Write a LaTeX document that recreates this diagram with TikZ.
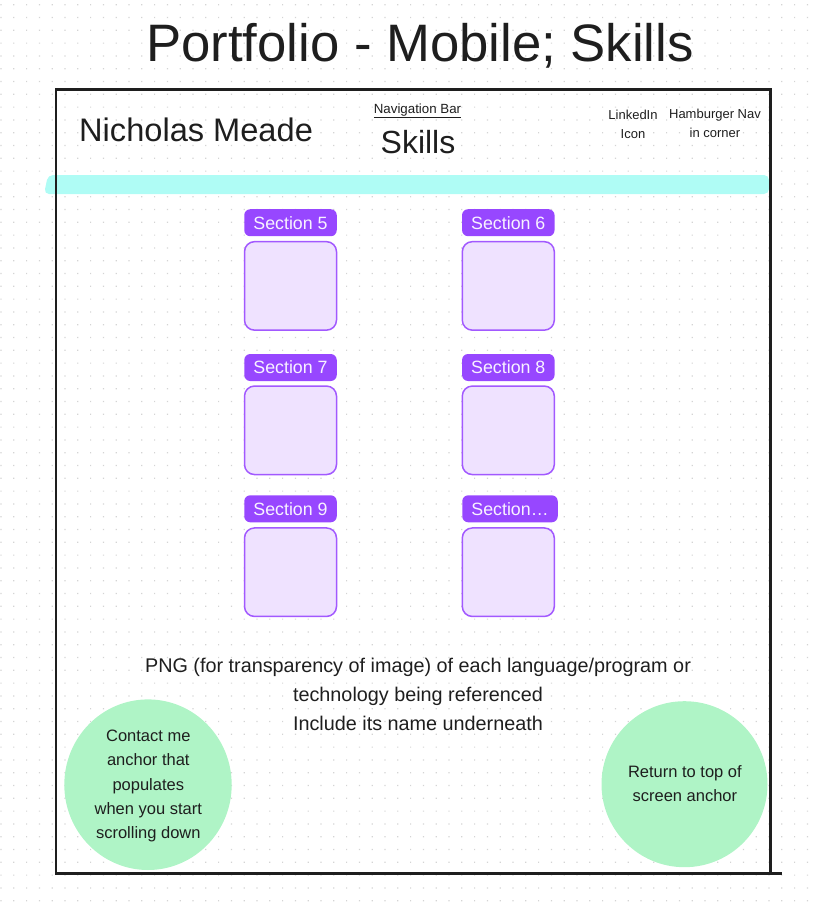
\documentclass[tikz,border=0pt]{standalone}
\usepackage{fontspec}
\setmainfont{Liberation Sans}
\usetikzlibrary{shapes.geometric}

\definecolor{ink}{HTML}{1E1E1E}
\definecolor{gridc}{HTML}{D4D4D4}
\definecolor{barc}{HTML}{AFFCF5}
\definecolor{tagc}{HTML}{9747FF}
\definecolor{tagtext}{HTML}{F8F2FF}
\definecolor{tilefill}{HTML}{EFE2FF}
\definecolor{tileline}{HTML}{A259FF}
\definecolor{bubble}{HTML}{AFF4C6}

% font size helper and a centred, top-aligned stack of lines
\newcommand\fsz[1]{\fontsize{#1}{#1}\selectfont}
\newcommand\linestack[4]{\parbox[t]{#1}{\centering\fontsize{#2}{#3}\selectfont #4}}

\begin{document}
\begin{tikzpicture}[x=1pt,y=-1pt,
  tag/.style={fill=tagc, rounded corners=6pt, minimum width=92.5pt,
    minimum height=27pt, inner sep=0pt, text=tagtext, font=\fsz{17.8}},
  tile/.style={fill=tilefill, draw=tileline, line width=1.5pt,
    rounded corners=10pt, minimum width=92pt, minimum height=88.5pt, inner sep=0pt},
  bubblenode/.style={ellipse, fill=bubble, inner sep=0pt},
  txt/.style={text=ink, inner sep=0pt, anchor=base},
  frameline/.style={draw=ink, line width=2.2pt}
]
\useasboundingbox (0,0) rectangle (813,903);

% dotted canvas
\fill[gridc] \foreach \i in {0,...,63}{\foreach \j in {0,...,70}{
  ({1+12.8*\i-0.6},{4.7+12.8*\j-0.6}) rectangle ++(1.2,1.2)}};

% title
\node[txt] (title) at (420,61) {\fsz{52.7}Portfolio - Mobile; Skills};

% header bar strip
\fill[barc, rounded corners=5pt] (48,175) -- (769,175) -- (769,194) -- (44,194) -- cycle;

% header texts
\node[txt, anchor=base west] (name) at (79,141) {\fsz{32.6}Nicholas Meade};
\node[txt] (navbar) at (417.5,113.5) {\fsz{13.3}\underline{Navigation Bar}};
\node[txt] (skills) at (418,153.3) {\fsz{32}Skills};
\node[txt] (linkedin) at (633,119.3) {\linestack{60pt}{13}{19.2}{LinkedIn\\Icon}};
\node[txt] (hamburger) at (715,118.7) {\linestack{110pt}{13}{18.6}{Hamburger Nav\\in corner}};

% skill tiles with their section tags
\node[tile] (t5) at (290.5,285.9) {};
\node[tile] (t6) at (508.3,285.9) {};
\node[tile] (t7) at (290.5,430.3) {};
\node[tile] (t8) at (508.3,430.3) {};
\node[tile] (t9) at (290.5,572.2) {};
\node[tile] (t10) at (508.3,572.2) {};

\node[tag] (g5) at (290.5,222.7) {Section 5};
\node[tag] (g6) at (508.3,222.7) {Section 6};
\node[tag] (g7) at (290.5,367.5) {Section 7};
\node[tag] (g8) at (508.3,367.5) {Section 8};
\node[tag] (g9) at (290.5,508.8) {Section 9};
\node[tag, minimum width=95.5pt] (g10) at (510,508.8) {Section…};

% note under the tiles
\node[txt] (note) at (418,672.5) {\linestack{600pt}{19.8}{29}{PNG (for transparency of image) of each language/program or\\technology being referenced\\Include its name underneath}};

% floating anchors
\node[bubblenode, minimum width=167.4pt, minimum height=170.6pt] (contact) at (148,784.7) {};
\node[bubblenode, minimum width=166pt, minimum height=166pt] (totop) at (684.5,784.2) {};
\node[txt] (contacttxt) at (148.3,741.7) {\linestack{160pt}{16.5}{24.15}{Contact me\\anchor that\\populates\\when you start\\scrolling down}};
\node[txt] (totoptxt) at (684.9,777.7) {\linestack{160pt}{16.5}{24}{Return to top of\\screen anchor}};

% phone frame
\draw[frameline] (56,89.5) rectangle (770.5,873.5);
\draw[frameline] (770.5,873.5) -- (781.5,873.5);
\end{tikzpicture}
\end{document}
